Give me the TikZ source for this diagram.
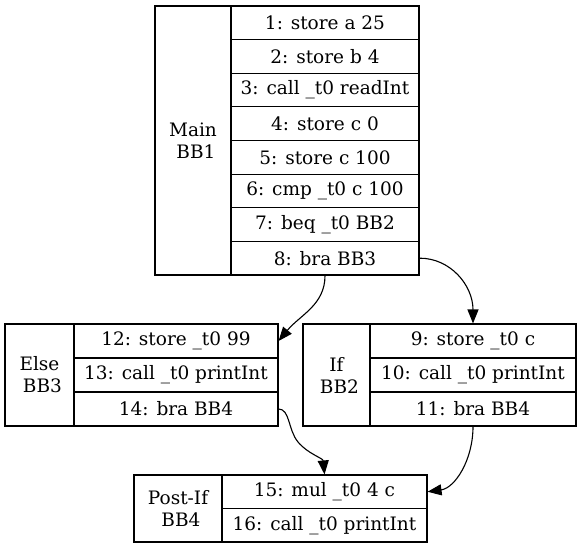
\documentclass[tikz,border=0pt]{standalone}
\usepackage{fontspec}
\setmainfont{DejaVu Serif}
\usetikzlibrary{arrows.meta}
\tikzset{
  cell/.style={draw, line width=1.1pt, inner sep=0pt, anchor=center,
    font=\fontsize{18.5}{22}\selectfont, align=center},
  edgearrow/.style={-{Triangle[length=14pt,width=11pt]}, line width=1.1pt}
}
\begin{document}
\begin{tikzpicture}[x=1pt,y=-1pt]
\useasboundingbox (0,0) rectangle (581,548);
\fill[white] (0,0) rectangle (581,548);
% Main BB1
\node[cell, minimum width=76pt, minimum height=269pt] (mainlbl) at (193,140.5) {Main\\\hspace*{0.32em}BB1};
\foreach \i/\t in {1/{1: store a 25},2/{2: store b 4},3/{3: call \_t0 readInt},4/{4: store c 0},5/{5: store c 100},6/{6: cmp \_t0 c 100},7/{7: beq \_t0 BB2},8/{8: bra BB3}}{
  \node[cell, minimum width=188pt, minimum height=33.625pt] (m\i) at (325,{6+33.625*(\i-0.5)}) {\t};
}
% Else BB3
\node[cell, minimum width=69pt, minimum height=102pt] (elselbl) at (39.5,375) {Else\\\hspace*{0.32em}BB3};
\node[cell, minimum width=204pt, minimum height=34pt] (e12) at (176,341) {12: store \_t0 99};
\node[cell, minimum width=204pt, minimum height=34pt] (e13) at (176,375) {13: call \_t0 printInt};
\node[cell, minimum width=204pt, minimum height=34pt] (e14) at (176,409) {14: bra BB4};
% If BB2
\node[cell, minimum width=67pt, minimum height=102pt] (iflbl) at (336.5,375) {If\\\hspace*{0.32em}BB2};
\node[cell, minimum width=206pt, minimum height=34pt] (i9) at (473,341) {9: store \_t0 c};
\node[cell, minimum width=206pt, minimum height=34pt] (i10) at (473,375) {10: call \_t0 printInt};
\node[cell, minimum width=206pt, minimum height=34pt] (i11) at (473,409) {11: bra BB4};
% Post-If BB4
\node[cell, minimum width=88pt, minimum height=67pt] (postlbl) at (178,508.5) {Post-If\\\hspace*{0.32em}BB4};
\node[cell, minimum width=205pt, minimum height=33.5pt] (p15) at (324.5,491.75) {15: mul \_t0 4 c};
\node[cell, minimum width=205pt, minimum height=33.5pt] (p16) at (324.5,525.25) {16: call \_t0 printInt};
% edges
\draw[edgearrow] (m8.south) .. controls (325,305) and (300,315) .. (e12.east);
\draw[edgearrow] (m8.east) .. controls (450,258) and (473,285) .. (i9.north);
\draw[edgearrow] (e14.east) .. controls (290,409) and (288,430) .. (298,442)
   .. controls (308,454) and (323,458) .. (p15.north);
\draw[edgearrow] (i11.south) .. controls (473,460) and (455,488) .. (p15.east);
\end{tikzpicture}
\end{document}
